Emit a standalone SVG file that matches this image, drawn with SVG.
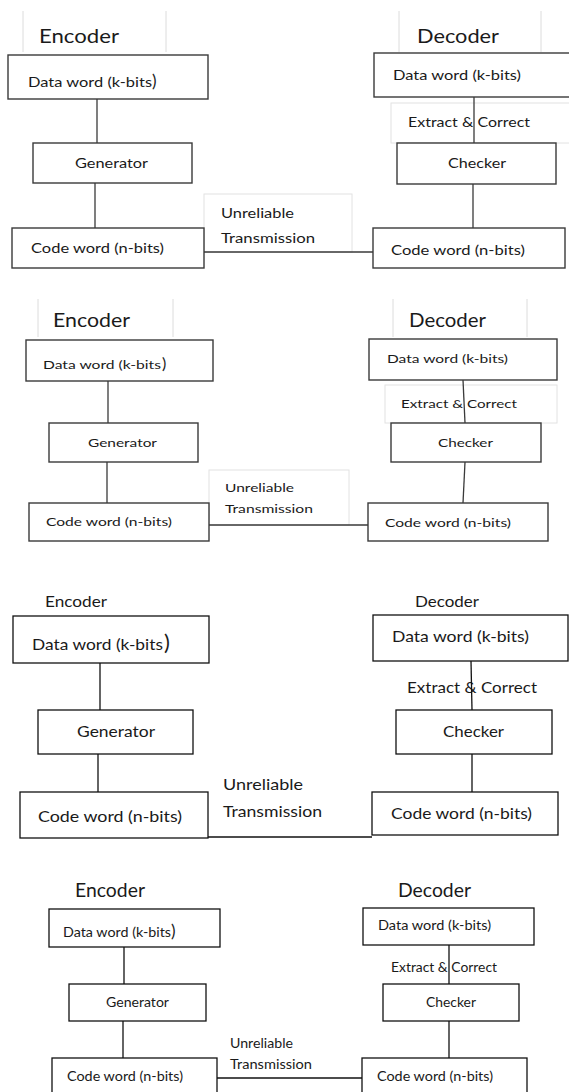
<svg xmlns="http://www.w3.org/2000/svg" width="569" height="1092" viewBox="0 0 569 1092">
<style>
text{font-family:Lato,"Liberation Sans",sans-serif;fill:#1a1a1a}
.box{fill:#fff;stroke:#3a3a3a;stroke-width:1.4}
.box2{fill:#fff;stroke:#111;stroke-width:1.3}
.hdr{stroke:#dcdcdc;stroke-width:1;fill:none}
.glab{fill:#fff;stroke:#e2e2e2;stroke-width:1}
.ln{stroke:#3a3a3a;stroke-width:1.3;fill:none}
.ln2{stroke:#111;stroke-width:1.3;fill:none}
.s1{font-size:12.5px}.s2{font-size:12px}.s3{font-size:16px}.s4{font-size:13.5px}
</style>
<rect width="569" height="1092" fill="#fff"/>

<!-- Panel 1 -->
<g id="p1">
<g id="p1-encoder-label"><line class="hdr" x1="23" y1="11" x2="23" y2="52"/><line class="hdr" x1="166" y1="11" x2="166" y2="52"/><text x="39" y="43" font-size="20" textLength="80" lengthAdjust="spacingAndGlyphs">Encoder</text></g>
<g id="p1-decoder-label"><line class="hdr" x1="399" y1="11" x2="399" y2="52"/><line class="hdr" x1="541" y1="11" x2="541" y2="52"/><text x="417" y="43" font-size="20" textLength="82" lengthAdjust="spacingAndGlyphs">Decoder</text></g>
<g id="p1-unreliable"><rect class="glab" x="204" y="194" width="148" height="58"/><text class="s1" x="221" y="218" textLength="73" lengthAdjust="spacingAndGlyphs">Unreliable</text><text class="s1" x="221" y="243" textLength="94" lengthAdjust="spacingAndGlyphs">Transmission</text></g>
<g id="p1-extract"><rect class="glab" x="391" y="103" width="185" height="40"/><text class="s1" x="408" y="127" textLength="122" lengthAdjust="spacingAndGlyphs">Extract &amp; Correct</text></g>
<g id="p1-connectors">
<line class="ln" x1="97" y1="99" x2="97" y2="143"/>
<line class="ln" x1="95" y1="183" x2="95" y2="228"/>
<line class="ln" x1="204" y1="252" x2="373" y2="252"/>
<line class="ln" x1="474" y1="97" x2="474" y2="143"/>
<line class="ln" x1="473" y1="184" x2="473" y2="228"/>
</g>
<g id="p1-enc-data"><rect class="box" x="8" y="55" width="200" height="44"/><text class="s1" x="28" y="87"><tspan textLength="124" lengthAdjust="spacingAndGlyphs">Data word (k-bits</tspan><tspan font-size="17" x="152">)</tspan></text></g>
<g id="p1-generator"><rect class="box" x="33" y="143" width="159" height="40"/><text class="s1" x="75" y="168" textLength="73" lengthAdjust="spacingAndGlyphs">Generator</text></g>
<g id="p1-enc-code"><rect class="box" x="12" y="228" width="192" height="40"/><text class="s1" x="31" y="253" textLength="133" lengthAdjust="spacingAndGlyphs">Code word (n-bits)</text></g>
<g id="p1-dec-data"><rect class="box" x="374" y="53" width="205" height="44"/><text class="s1" x="393" y="80" textLength="128" lengthAdjust="spacingAndGlyphs">Data word (k-bits)</text></g>
<g id="p1-checker"><rect class="box" x="397" y="143" width="159" height="41"/><text class="s1" x="448" y="168" textLength="58" lengthAdjust="spacingAndGlyphs">Checker</text></g>
<g id="p1-dec-code"><rect class="box" x="373" y="228" width="192" height="40"/><text class="s1" x="391" y="255" textLength="134" lengthAdjust="spacingAndGlyphs">Code word (n-bits)</text></g>
</g>

<!-- Panel 2 -->
<g id="p2">
<g id="p2-encoder-label"><line class="hdr" x1="38" y1="299" x2="38" y2="337"/><line class="hdr" x1="173" y1="299" x2="173" y2="337"/><text x="53" y="327" font-size="19" textLength="77" lengthAdjust="spacingAndGlyphs">Encoder</text></g>
<g id="p2-decoder-label"><line class="hdr" x1="393" y1="299" x2="393" y2="337"/><line class="hdr" x1="527" y1="299" x2="527" y2="337"/><text x="409" y="327" font-size="19" textLength="77" lengthAdjust="spacingAndGlyphs">Decoder</text></g>
<g id="p2-unreliable"><rect class="glab" x="209" y="470" width="140" height="55"/><text class="s2" x="225" y="492" textLength="69" lengthAdjust="spacingAndGlyphs">Unreliable</text><text class="s2" x="225" y="513" textLength="88" lengthAdjust="spacingAndGlyphs">Transmission</text></g>
<g id="p2-extract"><rect class="glab" x="385" y="385" width="172" height="38"/><text class="s2" x="401" y="408" textLength="116" lengthAdjust="spacingAndGlyphs">Extract &amp; Correct</text></g>
<g id="p2-connectors">
<line class="ln" x1="108" y1="381" x2="108" y2="423"/>
<line class="ln" x1="107" y1="462" x2="107" y2="503"/>
<line class="ln" x1="209" y1="525" x2="368" y2="525"/>
<line class="ln" x1="463" y1="380" x2="465" y2="423"/>
<line class="ln" x1="465" y1="462" x2="463" y2="503"/>
</g>
<g id="p2-enc-data"><rect class="box" x="26" y="340" width="187" height="41"/><text class="s2" x="43" y="369"><tspan textLength="118" lengthAdjust="spacingAndGlyphs">Data word (k-bits</tspan><tspan font-size="16" x="162">)</tspan></text></g>
<g id="p2-generator"><rect class="box" x="49" y="423" width="149" height="39"/><text class="s2" x="88" y="447" textLength="69" lengthAdjust="spacingAndGlyphs">Generator</text></g>
<g id="p2-enc-code"><rect class="box" x="29" y="503" width="180" height="38"/><text class="s2" x="46" y="526" textLength="126" lengthAdjust="spacingAndGlyphs">Code word (n-bits)</text></g>
<g id="p2-dec-data"><rect class="box" x="369" y="339" width="188" height="41"/><text class="s2" x="387" y="363" textLength="121" lengthAdjust="spacingAndGlyphs">Data word (k-bits)</text></g>
<g id="p2-checker"><rect class="box" x="391" y="423" width="150" height="39"/><text class="s2" x="438" y="447" textLength="55" lengthAdjust="spacingAndGlyphs">Checker</text></g>
<g id="p2-dec-code"><rect class="box" x="368" y="503" width="180" height="38"/><text class="s2" x="385" y="527" textLength="126" lengthAdjust="spacingAndGlyphs">Code word (n-bits)</text></g>
</g>

<!-- Panel 3 -->
<g id="p3">
<g id="p3-encoder-label"><text x="45" y="607" font-size="16" textLength="62" lengthAdjust="spacingAndGlyphs">Encoder</text></g>
<g id="p3-decoder-label"><text x="415" y="607" font-size="16" textLength="64" lengthAdjust="spacingAndGlyphs">Decoder</text></g>
<g id="p3-unreliable"><text class="s3" x="223" y="790" textLength="80" lengthAdjust="spacingAndGlyphs">Unreliable</text><text class="s3" x="223" y="817" textLength="99" lengthAdjust="spacingAndGlyphs">Transmission</text></g>
<g id="p3-extract"><text class="s3" x="407" y="693" textLength="130" lengthAdjust="spacingAndGlyphs">Extract &amp; Correct</text></g>
<g id="p3-connectors">
<line class="ln2" x1="100" y1="663" x2="100" y2="710"/>
<line class="ln2" x1="98" y1="754" x2="98" y2="792"/>
<line class="ln2" x1="208" y1="837" x2="372" y2="837"/>
<line class="ln2" x1="471" y1="661" x2="472" y2="710"/>
<line class="ln2" x1="472" y1="754" x2="472" y2="792"/>
</g>
<g id="p3-enc-data"><rect class="box2" x="13" y="616" width="196" height="47"/><text class="s3" x="32" y="650"><tspan textLength="131" lengthAdjust="spacingAndGlyphs">Data word (k-bits</tspan><tspan font-size="22" x="164">)</tspan></text></g>
<g id="p3-generator"><rect class="box2" x="38" y="710" width="155" height="44"/><text class="s3" x="77" y="737" textLength="78" lengthAdjust="spacingAndGlyphs">Generator</text></g>
<g id="p3-enc-code"><rect class="box2" x="20" y="792" width="188" height="46"/><text class="s3" x="38" y="822" textLength="144" lengthAdjust="spacingAndGlyphs">Code word (n-bits)</text></g>
<g id="p3-dec-data"><rect class="box2" x="373" y="615" width="195" height="46"/><text class="s3" x="392" y="642" textLength="137" lengthAdjust="spacingAndGlyphs">Data word (k-bits)</text></g>
<g id="p3-checker"><rect class="box2" x="396" y="710" width="156" height="44"/><text class="s3" x="443" y="737" textLength="61" lengthAdjust="spacingAndGlyphs">Checker</text></g>
<g id="p3-dec-code"><rect class="box2" x="372" y="792" width="186" height="43"/><text class="s3" x="391" y="819" textLength="141" lengthAdjust="spacingAndGlyphs">Code word (n-bits)</text></g>
</g>

<!-- Panel 4 -->
<g id="p4">
<g id="p4-encoder-label"><text x="75" y="897" font-size="19" textLength="70" lengthAdjust="spacingAndGlyphs">Encoder</text></g>
<g id="p4-decoder-label"><text x="398" y="897" font-size="19" textLength="73" lengthAdjust="spacingAndGlyphs">Decoder</text></g>
<g id="p4-unreliable"><text class="s4" x="230" y="1048" textLength="63" lengthAdjust="spacingAndGlyphs">Unreliable</text><text class="s4" x="230" y="1069" textLength="82" lengthAdjust="spacingAndGlyphs">Transmission</text></g>
<g id="p4-extract"><text class="s4" x="391" y="972" textLength="106" lengthAdjust="spacingAndGlyphs">Extract &amp; Correct</text></g>
<g id="p4-connectors">
<line class="ln2" x1="124" y1="947" x2="124" y2="984"/>
<line class="ln2" x1="123" y1="1021" x2="123" y2="1058"/>
<line class="ln2" x1="217" y1="1078" x2="362" y2="1078"/>
<line class="ln2" x1="449" y1="945" x2="449" y2="984"/>
<line class="ln2" x1="449" y1="1021" x2="449" y2="1058"/>
</g>
<g id="p4-enc-data"><rect class="box2" x="49" y="909" width="171" height="38"/><text class="s4" x="63" y="937"><tspan textLength="108" lengthAdjust="spacingAndGlyphs">Data word (k-bits</tspan><tspan font-size="17" x="171">)</tspan></text></g>
<g id="p4-generator"><rect class="box2" x="69" y="984" width="137" height="37"/><text class="s4" x="106" y="1007" textLength="63" lengthAdjust="spacingAndGlyphs">Generator</text></g>
<g id="p4-enc-code"><rect class="box2" x="52" y="1058" width="165" height="50"/><text class="s4" x="67" y="1081" textLength="116" lengthAdjust="spacingAndGlyphs">Code word (n-bits)</text></g>
<g id="p4-dec-data"><rect class="box2" x="363" y="908" width="171" height="37"/><text class="s4" x="378" y="930" textLength="113" lengthAdjust="spacingAndGlyphs">Data word (k-bits)</text></g>
<g id="p4-checker"><rect class="box2" x="383" y="984" width="136" height="37"/><text class="s4" x="426" y="1007" textLength="50" lengthAdjust="spacingAndGlyphs">Checker</text></g>
<g id="p4-dec-code"><rect class="box2" x="362" y="1058" width="165" height="50"/><text class="s4" x="377" y="1081" textLength="116" lengthAdjust="spacingAndGlyphs">Code word (n-bits)</text></g>
</g>
</svg>
